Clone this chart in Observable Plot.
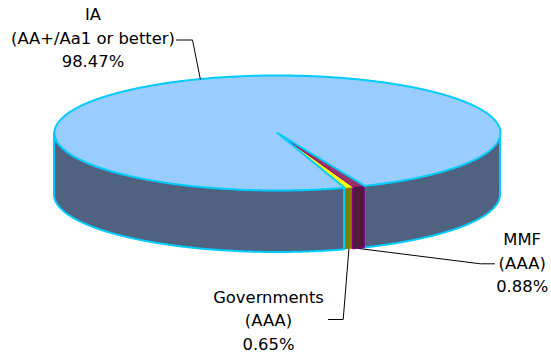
<!DOCTYPE html>
<html>
<head>
<meta charset="utf-8">
<script src="https://cdn.jsdelivr.net/npm/d3@7"></script>
<script src="https://cdn.jsdelivr.net/npm/@observablehq/plot@0.6"></script>
<style>
  html, body { margin: 0; padding: 0; background: #ffffff; }
  #chart svg { display: block; }
</style>
</head>
<body>
<div id="chart"></div>
<script>
// ---- Data (order as it runs around the pie, starting at the front) ----
const names   = ["Governments", "MMF", "IA"];
const ratings = ["(AAA)", "(AAA)", "(AA+/Aa1 or better)"];
const shares  = [0.65, 0.88, 98.47];
const topColors  = ["#ffff00", "#993366", "#99ccff"];
const sideColors = ["#808000", "#4d1a3a", "#4f6380"];
const edgeColors = ["#808000", "#800080", "#00ccff"];

// ---- Layout of the 3D pie (pixels) ----
const W = 551, H = 355;
const cx = 277, cy = 132.5, rx = 223, ry = 57.5, depth = 62;
const phi0 = 17.5 * Math.PI / 180; // angle (from 6 o'clock, toward the right) where the first slice starts
const fontSize = 16.4, lineH = 23.4;

// label anchors (center x, baseline of last line) and elbow points of leader lines
const labelLayout = {
  "IA":          {x: 92.5, y: 66.7,  elbow: [[192, 39.5], [176, 39.5]], at: "top"},
  "Governments": {x: 268,  y: 349,   elbow: [[342.7, 319], [328, 319]], at: "bottom"},
  "MMF":         {x: 521.7, y: 291.7, elbow: [[480, 263.3], [494, 263.3]], at: "bottom"}
};

const total = d3.sum(shares);
const pt = (phi, dy = 0) => ({x: cx + rx * Math.sin(phi), y: cy + ry * Math.cos(phi) + dy});
const step = Math.PI / 720;

let a = phi0;
const slices = names.map((n, i) => {
  const s = a, e = a + shares[i] / total * 2 * Math.PI;
  a = e;
  return {name: n, i, start: s, end: e, mid: (s + e) / 2};
});

// top sector polygon
function sectorPoints(sl) {
  const pts = [{x: cx, y: cy}];
  const n = Math.max(2, Math.ceil((sl.end - sl.start) / step));
  for (let k = 0; k <= n; k++) pts.push(pt(sl.start + (sl.end - sl.start) * k / n));
  pts.push({x: cx, y: cy});
  return pts;
}
// visible (front) side pieces
function sidePieces(sl) {
  const pieces = [];
  for (let k = -1; k <= 2; k++) {
    const ws = -Math.PI / 2 + 2 * Math.PI * k, we = Math.PI / 2 + 2 * Math.PI * k;
    const s = Math.max(sl.start, ws), e = Math.min(sl.end, we);
    if (e > s) {
      const n = Math.max(2, Math.ceil((e - s) / step));
      const pts = [];
      for (let j = 0; j <= n; j++) {
        const p = pt(s + (e - s) * j / n);
        pts.push({x: p.x, y1: p.y, y2: p.y + depth});
      }
      pieces.push({s, e, pts});
    }
  }
  return pieces;
}

const [gov, mmf, ia] = slices;
const iaPieces = sidePieces(ia);
// piece that ends where Governments begins is drawn last (its edge shows beside the olive side)
const iaLast = iaPieces.filter(p => Math.abs(((p.e - gov.start) % (2 * Math.PI))) < 1e-6);
const iaFirst = iaPieces.filter(p => !iaLast.includes(p));

const marks = [];
const sideMark = (pts, i, sw) => Plot.areaY(pts, {x: "x", y1: "y1", y2: "y2", fill: sideColors[i], stroke: edgeColors[i], strokeWidth: sw, strokeLinejoin: "round"});

iaFirst.forEach(p => marks.push(sideMark(p.pts, ia.i, 2)));
sidePieces(gov).forEach(p => marks.push(Plot.areaY(p.pts, {x: "x", y1: "y1", y2: "y2", fill: sideColors[gov.i]})));
sidePieces(mmf).forEach(p => marks.push(sideMark(p.pts, mmf.i, 1.5)));
iaLast.forEach(p => marks.push(sideMark(p.pts, ia.i, 2)));

// tops
marks.push(Plot.line(sectorPoints(gov), {x: "x", y: "y", fill: topColors[gov.i], stroke: topColors[gov.i], strokeWidth: 0.5}));
marks.push(Plot.line(sectorPoints(mmf), {x: "x", y: "y", fill: topColors[mmf.i], stroke: edgeColors[mmf.i], strokeWidth: 1}));
marks.push(Plot.line(sectorPoints(ia), {x: "x", y: "y", fill: topColors[ia.i], stroke: edgeColors[ia.i], strokeWidth: 2, strokeLinejoin: "round"}));

// leader lines and labels
slices.forEach(sl => {
  const L = labelLayout[sl.name];
  const anchor = L.at === "top" ? pt(sl.mid) : pt(sl.mid, depth);
  const path = [anchor, ...L.elbow.map(([x, y]) => ({x, y}))];
  marks.push(Plot.line(path, {x: "x", y: "y", stroke: "#000000", strokeWidth: 1}));
});
const labelData = slices.map(sl => ({
  text: `${sl.name}\n${ratings[sl.i]}\n${shares[sl.i].toFixed(2)}%`,
  x: labelLayout[sl.name].x,
  y: labelLayout[sl.name].y
}));
marks.push(Plot.text(labelData, {
  x: "x", y: "y", text: "text",
  textAnchor: "middle", lineAnchor: "bottom", lineHeight: lineH / fontSize,
  fill: "#000000", fontSize: fontSize, fontFamily: "DejaVu Sans"
}));

const chart = Plot.plot({
  width: W, height: H, margin: 0,
  style: {background: "#ffffff", fontFamily: "DejaVu Sans"},
  x: {domain: [0, W], range: [0, W], axis: null},
  y: {domain: [0, H], range: [0, H], axis: null},
  marks
});
document.getElementById("chart").appendChild(chart);
</script>
</body>
</html>
